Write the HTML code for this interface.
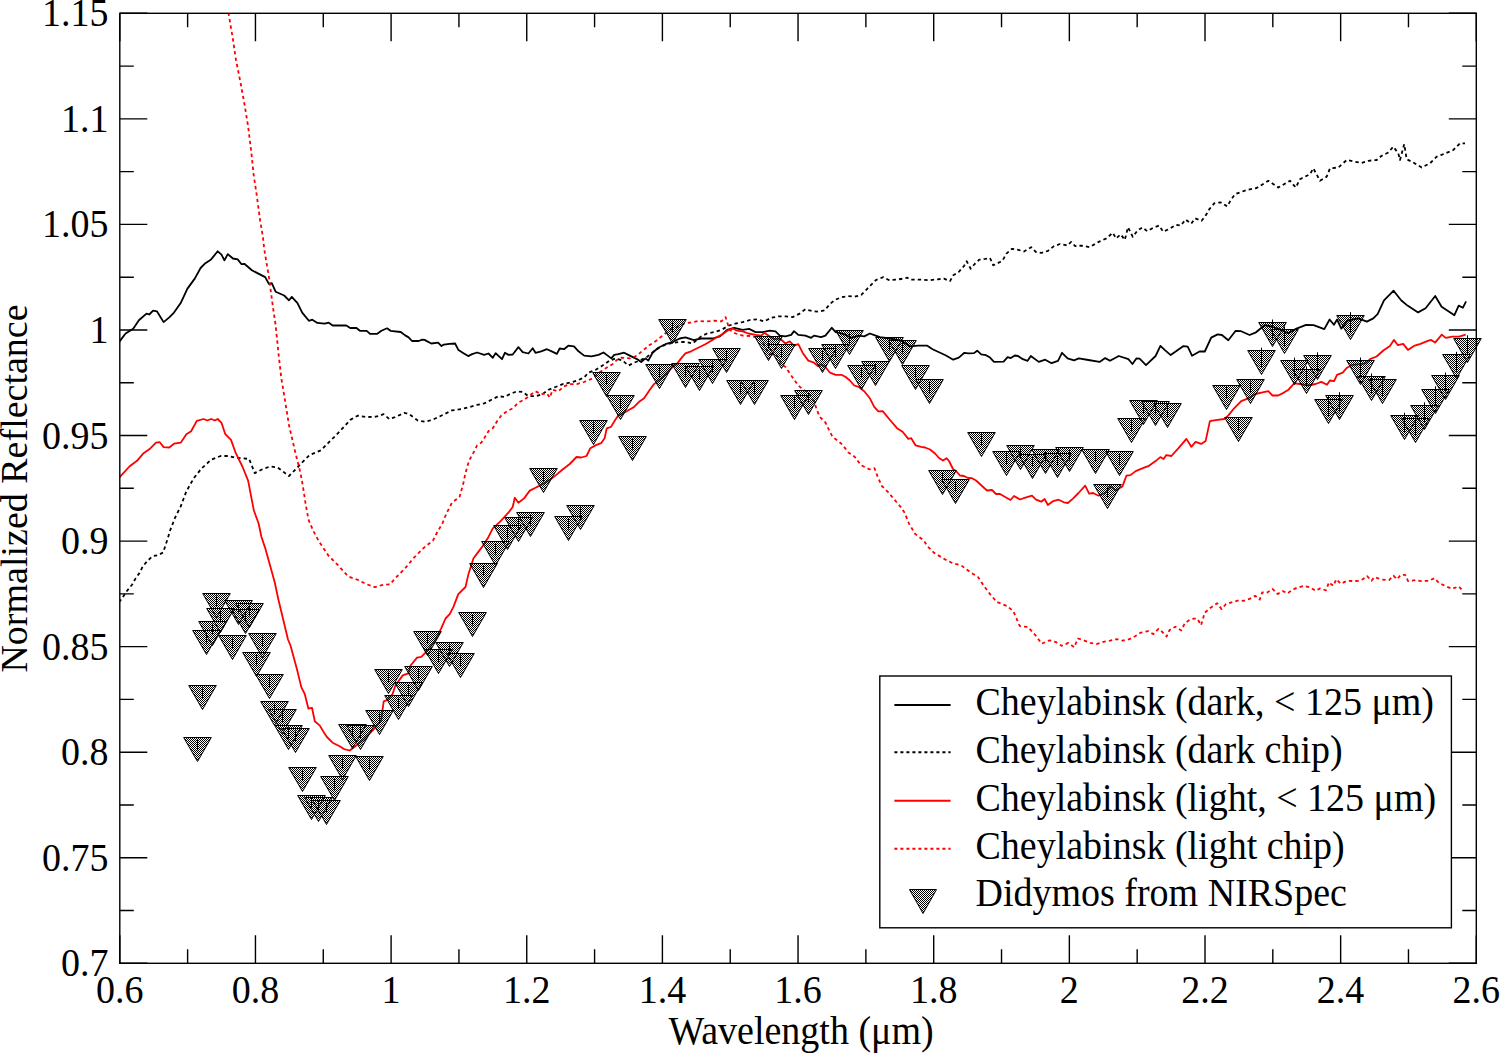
<!DOCTYPE html>
<html><head><meta charset="utf-8"><style>
html,body{margin:0;padding:0;background:#fff;}
body{width:1500px;height:1053px;overflow:hidden;}
svg{display:block;}
text{font-family:"Liberation Serif",serif;fill:#000;}
</style></head><body>
<svg width="1500" height="1053" viewBox="0 0 1500 1053">
<defs>
<pattern id="chk" width="2" height="2" patternUnits="userSpaceOnUse"><rect width="1" height="1" fill="#000"/><rect x="1" y="1" width="1" height="1" fill="#000"/></pattern><pattern id="chkw" width="2" height="2" patternUnits="userSpaceOnUse"><rect width="2" height="2" fill="#fff"/><rect width="1" height="1" fill="#000"/><rect x="1" y="1" width="1" height="1" fill="#000"/></pattern>
<clipPath id="pc"><rect x="119.8" y="13.3" width="1356.5" height="950.0"/></clipPath>
</defs>
<rect width="1500" height="1053" fill="#fff"/>

<g clip-path="url(#pc)" fill="none" stroke-linejoin="round">
<polyline points="119.0,342.1 125.6,333.5 133.2,328.8 138.9,320.2 146.5,313.6 149.3,314.5 153.1,310.7 156.9,311.3 163.6,322.1 169.3,317.4 174.0,312.6 180.7,303.1 187.3,288.9 194.9,278.4 200.6,268.0 205.4,263.2 211.1,259.4 217.7,251.3 221.5,254.7 224.4,260.4 227.8,254.1 232.9,258.5 237.7,259.4 241.5,264.2 244.3,263.8 251.9,270.3 265.2,277.1 269.0,284.1 271.8,283.2 275.6,291.7 284.2,295.5 289.0,300.3 291.8,296.9 297.5,303.1 302.2,312.6 308.9,320.8 312.3,319.7 317.4,322.9 324.7,323.7 328.7,322.7 332.7,325.5 346.3,325.5 350.2,328.0 356.5,328.0 359.9,330.8 366.7,330.8 370.1,333.9 376.9,333.9 381.4,330.8 387.1,328.3 390.5,330.8 400.7,332.0 405.2,335.4 408.6,337.4 412.0,341.0 418.8,341.0 422.2,339.7 424.5,339.9 431.3,343.5 438.1,342.7 441.5,346.1 443.8,344.6 449.5,343.9 455.1,343.5 458.5,350.1 463.1,352.9 468.2,356.1 472.1,354.1 477.1,352.5 484.2,354.9 488.5,353.5 492.8,357.8 495.6,353.1 502.0,359.2 504.9,352.8 508.5,354.9 512.7,354.5 518.4,347.1 522.7,352.1 528.4,353.5 532.7,348.2 535.5,352.8 541.2,351.4 546.9,349.2 551.2,351.1 556.9,353.9 559.7,348.5 564.0,349.2 568.3,345.7 574.0,346.3 578.5,351.3 584.2,355.6 591.4,356.3 598.5,354.9 603.5,352.5 607.7,355.6 611.3,358.4 614.2,354.9 618.4,354.2 624.1,352.7 629.8,355.6 637.0,359.1 641.2,362.0 645.5,358.4 648.3,360.6 652.6,352.7 658.3,347.7 665.4,344.2 672.6,342.0 679.7,338.5 685.4,337.4 693.9,340.2 701.1,338.5 712.5,338.5 719.9,336.4 727.1,329.9 734.2,327.8 742.7,329.9 749.1,328.9 755.6,332.1 762.7,332.1 769.8,330.7 775.5,331.4 779.8,335.6 785.5,336.4 791.2,334.9 794.0,331.1 798.3,334.9 805.4,335.6 811.1,337.8 814.0,335.6 821.1,337.1 825.4,335.6 831.8,327.8 835.7,332.1 844.2,334.2 851.4,337.8 858.5,335.6 864.2,336.4 869.9,333.5 875.6,335.6 879.9,337.1 889.8,338.5 901.2,340.6 909.8,346.3 918.3,345.6 926.9,345.6 932.6,349.2 938.0,351.7 946.0,355.5 953.2,359.7 958.8,357.6 964.4,352.8 968.4,353.3 974.0,353.1 977.2,350.7 981.2,354.4 986.0,355.2 990.0,357.6 994.0,361.9 1003.6,361.6 1007.6,357.1 1010.8,358.1 1014.8,355.5 1018.0,356.0 1022.8,359.2 1027.6,360.8 1030.8,356.0 1038.8,361.9 1045.2,359.7 1051.6,363.2 1058.0,360.8 1062.0,352.8 1067.6,358.4 1074.0,360.3 1078.8,358.4 1088.4,360.0 1099.6,361.9 1105.2,358.1 1110.0,360.8 1118.8,356.0 1128.4,359.2 1132.4,364.0 1136.4,358.4 1139.6,358.7 1146.0,365.1 1155.6,356.0 1160.4,345.9 1165.2,350.4 1170.7,355.1 1183.5,346.1 1187.7,346.6 1192.0,355.7 1199.5,351.5 1204.8,351.5 1211.2,337.6 1217.6,334.4 1221.9,335.0 1228.3,340.2 1235.7,330.8 1241.1,331.2 1249.6,335.0 1256.0,332.3 1264.5,325.2 1270.9,326.5 1279.5,329.1 1288.0,333.3 1296.5,328.6 1306.1,324.8 1313.6,325.2 1324.3,329.1 1329.6,319.5 1333.9,324.8 1337.1,319.5 1341.3,328.6 1347.7,320.5 1358.4,318.4 1366.9,321.6 1373.3,318.4 1377.6,314.1 1384.0,300.3 1393.6,290.7 1401.1,300.3 1407.5,305.6 1418.1,312.4 1425.6,308.2 1435.2,296.0 1441.6,306.7 1454.4,315.2 1458.7,305.6 1462.9,307.7 1466.1,301.3" stroke="#000" stroke-width="1.8"/>
<polyline points="119.1,602.2 122.9,596.9 127.1,590.8 132.0,584.7 135.5,578.6 139.6,572.9 142.7,566.5 147.2,561.2 152.6,556.2 158.3,555.1 163.2,552.4 165.5,545.2 167.8,538.4 170.0,530.8 175.0,517.8 180.7,506.4 186.4,491.2 194.0,477.9 201.6,468.4 211.1,459.8 220.6,456.0 228.2,456.0 236.7,457.9 249.1,458.9 254.8,473.1 262.3,469.3 270.0,466.5 277.5,467.4 289.0,476.0 298.4,466.5 300.0,464.6 309.5,455.1 320.9,450.3 328.5,442.7 338.0,433.2 350.3,419.9 357.9,415.6 366.5,417.1 376.0,416.7 383.6,414.2 389.3,419.0 395.0,417.1 404.5,412.9 409.2,414.2 417.8,420.5 425.4,421.8 433.0,419.6 444.3,414.2 451.9,410.4 461.4,409.1 470.0,406.9 477.1,404.8 484.2,403.4 491.4,399.8 498.5,396.2 504.2,397.0 509.9,394.1 517.0,391.3 522.7,392.0 528.4,396.2 535.5,396.2 542.6,394.1 548.3,389.8 555.5,387.0 562.6,384.1 569.7,382.7 576.8,380.6 584.0,377.7 588.2,372.7 595.4,369.9 602.5,365.6 609.6,360.6 615.6,358.4 622.7,360.6 628.4,365.6 634.1,362.7 641.2,359.9 646.9,357.0 654.0,351.3 661.2,346.3 669.7,343.5 678.3,342.0 685.4,342.0 692.5,343.5 701.1,336.4 707.1,333.5 714.2,332.1 721.4,329.9 728.5,325.7 735.6,323.5 742.7,322.1 749.9,320.0 757.0,319.3 764.1,321.4 771.2,317.8 778.3,316.4 785.5,316.4 792.6,317.1 799.7,313.6 805.3,309.3 812.0,311.1 818.7,311.7 824.7,310.4 829.3,304.7 834.7,300.0 841.3,297.3 848.0,296.0 854.7,296.7 861.3,294.9 866.7,289.3 871.3,284.7 876.0,280.0 883.3,277.1 888.7,280.0 896.0,279.7 902.7,278.7 907.3,277.7 910.0,279.6 916.0,279.6 922.7,279.7 929.3,280.3 937.3,279.3 944.0,278.7 950.0,281.1 953.3,275.3 958.7,272.0 964.0,266.0 966.7,261.3 970.7,268.7 974.7,264.0 979.3,259.7 985.3,258.9 990.0,258.0 993.3,265.3 1000.0,262.0 1002.4,260.8 1006.4,253.6 1012.0,248.8 1018.4,249.9 1024.0,251.5 1031.2,247.2 1036.0,252.0 1041.6,252.8 1048.0,250.9 1053.6,246.4 1060.0,244.0 1067.2,245.6 1071.2,241.9 1075.2,246.1 1081.6,245.6 1089.6,247.2 1099.2,241.6 1106.4,238.4 1112.8,232.8 1116.0,238.4 1120.8,234.4 1124.8,240.0 1128.0,227.2 1132.8,236.8 1137.6,230.4 1142.4,227.5 1147.2,231.2 1153.6,227.5 1159.2,225.6 1163.2,231.7 1169.6,228.8 1176.0,224.8 1180.8,225.6 1185.6,219.5 1191.2,223.7 1195.2,218.4 1201.6,220.8 1206.4,214.4 1209.6,208.8 1214.4,203.2 1220.8,202.4 1227.2,206.4 1230.4,200.8 1235.0,194.2 1246.7,190.0 1256.7,188.0 1268.3,180.8 1278.3,187.5 1290.0,180.8 1295.8,187.5 1300.0,179.2 1310.0,174.2 1313.3,168.3 1320.0,180.8 1326.7,176.7 1330.0,168.3 1338.3,167.5 1346.7,160.0 1355.0,161.7 1361.7,163.0 1368.3,160.8 1376.7,160.0 1381.7,155.8 1388.3,152.5 1393.3,146.7 1398.3,153.3 1400.0,160.0 1404.2,144.2 1406.7,159.2 1413.3,162.5 1421.7,167.5 1430.0,163.3 1436.7,156.7 1443.3,154.2 1453.3,150.0 1460.0,143.3 1465.0,143.3" stroke="#000" stroke-width="1.8" stroke-dasharray="3.4 3.1"/>
<polyline points="119.0,477.9 129.4,466.5 137.0,460.8 143.6,453.2 150.3,448.4 156.0,442.7 159.8,442.2 163.6,447.1 169.3,447.5 174.0,443.7 180.7,442.7 186.4,434.2 191.1,431.3 196.8,420.9 203.5,419.0 207.3,420.5 211.1,419.0 214.9,420.5 217.7,419.0 221.5,422.8 225.3,434.2 231.0,439.9 235.8,453.2 242.4,466.5 248.1,480.7 253.8,510.2 258.6,523.5 261.4,536.8 265.2,548.1 270.0,565.2 274.7,582.3 278.5,600.0 288.0,639.5 290.5,645.5 296.9,669.0 301.3,687.1 304.8,694.2 308.4,708.5 312.0,707.8 314.8,721.3 319.8,725.6 324.1,732.7 326.9,737.0 332.6,742.7 339.7,746.2 344.0,749.1 349.7,750.5 355.4,746.2 364.0,739.1 372.5,730.6 381.1,720.6 383.7,701.3 387.0,700.2 392.5,694.2 395.3,685.7 402.7,675.4 408.4,673.3 410.6,665.5 417.0,657.6 421.3,656.9 427.0,651.2 435.5,639.8 441.2,628.4 445.5,618.5 449.7,614.2 453.3,607.1 458.3,594.2 465.5,587.0 468.5,573.9 473.5,558.3 475.7,555.4 482.1,546.9 488.5,536.9 492.8,528.3 499.9,521.9 508.4,512.7 512.7,507.0 514.8,497.7 518.4,502.7 524.1,498.4 529.8,490.6 535.5,487.7 541.2,484.9 549.7,479.9 555.4,475.6 562.6,469.5 569.7,464.0 576.5,457.0 581.1,457.5 586.5,456.0 590.4,448.2 595.4,445.4 601.1,443.2 604.6,438.3 606.8,428.3 611.0,426.9 615.3,419.7 618.4,415.4 627.0,411.1 634.1,406.9 639.8,401.2 644.1,398.3 649.8,389.8 654.0,384.1 661.2,378.4 666.9,372.7 672.6,367.0 676.8,364.1 681.1,358.4 685.4,353.4 691.1,351.3 698.2,347.7 705.3,344.2 712.5,339.9 717.0,337.0 721.4,334.9 728.5,329.9 732.8,328.5 737.0,330.7 742.7,331.4 748.4,333.5 755.6,334.9 761.3,335.6 764.1,332.8 768.4,335.6 774.1,339.2 779.8,338.5 785.5,343.5 789.7,341.3 794.0,345.6 798.3,344.2 802.6,352.7 808.3,360.6 814.0,362.7 818.2,366.3 821.1,364.1 825.4,367.0 830.0,372.7 835.7,374.8 841.4,374.8 845.7,377.0 849.9,380.5 854.2,385.5 858.5,386.9 864.2,391.2 869.9,398.3 874.2,406.9 878.4,411.4 882.7,411.1 889.8,419.7 897.0,428.2 902.6,431.8 908.3,438.9 911.2,438.2 915.5,445.3 921.2,446.8 925.0,447.5 930.0,449.5 935.0,453.5 939.0,458.0 943.0,460.5 946.5,458.2 949.0,461.0 953.0,469.0 956.0,471.0 960.0,475.5 964.0,476.0 968.0,478.0 972.0,478.2 976.0,480.5 982.0,486.0 987.0,490.5 992.0,490.0 996.0,494.0 1000.0,494.0 1006.0,497.5 1010.5,500.0 1014.0,496.0 1020.0,499.5 1025.3,497.7 1032.0,495.7 1036.0,499.7 1041.3,501.7 1044.6,499.0 1047.9,505.0 1053.2,501.0 1058.6,499.7 1063.9,502.3 1067.9,503.0 1073.2,498.4 1078.5,493.0 1085.2,485.7 1089.1,493.7 1093.1,493.0 1098.5,495.7 1105.1,493.0 1110.4,486.4 1115.7,490.4 1122.4,486.4 1126.4,475.7 1130.4,475.1 1135.7,471.1 1142.3,468.4 1149.0,465.8 1155.6,461.1 1160.3,457.1 1163.6,459.1 1166.3,455.1 1171.4,456.0 1178.5,448.2 1186.4,438.9 1191.3,446.8 1195.6,441.8 1201.3,443.9 1205.6,441.1 1209.9,421.1 1214.1,420.4 1224.1,419.0 1228.4,415.4 1234.1,408.3 1241.2,401.2 1248.3,398.3 1255.4,394.0 1262.6,392.3 1268.3,391.2 1272.5,395.5 1278.2,395.5 1283.9,392.6 1288.5,389.7 1294.2,383.3 1299.9,384.0 1308.5,385.5 1315.6,384.0 1321.3,381.9 1327.0,384.8 1329.9,380.5 1334.1,381.2 1337.0,374.8 1342.7,372.6 1347.0,367.7 1352.6,364.8 1359.8,364.1 1365.5,363.4 1370.0,359.2 1376.6,356.5 1383.3,350.5 1389.9,345.9 1393.9,339.9 1397.9,345.2 1403.2,343.9 1407.9,349.9 1413.9,345.9 1420.5,343.9 1427.1,341.2 1431.1,339.9 1435.1,342.6 1441.8,334.6 1445.7,337.9 1452.4,336.6 1459.0,336.6 1465.7,334.6" stroke="#f00" stroke-width="1.8"/>
<polyline points="228.4,12.6 232.8,38.4 236.0,60.2 240.4,82.0 244.8,106.0 248.0,125.7 251.3,152.0 253.5,173.8 256.8,195.6 260.0,219.6 262.9,237.0 264.2,249.0 269.0,277.5 272.8,306.0 275.6,325.0 278.5,353.5 281.3,378.1 285.1,401.0 288.9,424.7 294.6,449.4 300.3,472.2 302.8,485.5 305.7,504.5 308.5,519.7 313.3,531.0 319.0,541.5 328.5,555.7 338.0,565.2 348.4,576.6 357.0,579.5 366.5,584.2 375.0,587.1 381.7,585.2 390.2,584.2 395.0,578.5 404.5,569.0 414.0,557.6 423.5,548.1 433.0,540.5 436.8,533.0 442.4,523.5 446.2,514.0 452.0,502.6 459.5,496.9 463.3,483.6 465.2,474.1 469.0,460.8 474.3,451.1 477.1,445.4 481.4,442.5 484.2,438.3 488.5,431.1 492.8,428.3 497.1,421.2 501.3,415.5 507.0,411.2 512.7,408.3 518.4,402.6 524.1,399.8 529.8,395.5 535.5,391.3 541.2,394.1 546.9,393.4 549.8,397.7 552.6,389.8 558.3,391.3 564.0,386.3 569.7,384.1 576.8,384.1 584.0,382.0 591.1,379.1 598.2,373.4 605.3,368.5 612.5,364.2 618.0,359.0 621.3,357.7 629.8,358.4 637.0,355.6 642.6,350.6 649.8,344.9 655.5,341.3 662.6,335.6 669.7,329.9 676.8,327.1 684.0,323.5 691.1,322.5 698.2,321.1 706.8,321.4 714.2,320.7 721.4,321.4 725.6,317.1 727.8,324.2 729.9,329.9 735.6,333.5 742.7,335.6 750.0,336.0 756.0,337.0 761.3,338.5 765.5,348.5 769.8,354.2 776.9,355.6 781.2,364.1 785.5,367.0 791.2,375.5 798.3,385.5 802.6,389.1 808.3,392.6 814.0,401.2 816.8,409.7 819.7,416.8 825.4,422.5 829.6,431.1 832.5,436.8 838.2,441.1 842.3,444.6 848.4,452.5 854.6,456.7 860.9,465.1 869.3,469.3 874.5,468.2 877.6,476.6 881.8,486.0 888.1,492.2 894.3,499.5 900.6,506.9 904.8,513.1 909.0,523.6 915.2,534.0 923.6,540.3 927.8,546.6 934.0,552.8 944.5,559.1 952.8,563.3 961.2,565.4 969.5,571.6 977.9,576.9 984.2,586.3 990.4,594.6 996.7,601.9 1007.2,606.1 1013.4,611.3 1019.7,626.0 1028.0,627.0 1036.4,636.4 1041.6,643.7 1048.9,640.6 1050.0,640.4 1055.9,642.1 1061.7,645.8 1068.3,642.9 1074.2,647.3 1077.9,638.5 1083.7,640.4 1090.3,642.9 1096.9,644.0 1103.5,641.8 1110.1,640.7 1116.7,639.2 1122.6,640.7 1129.2,639.2 1135.1,636.3 1140.9,632.6 1148.3,631.1 1153.4,634.1 1158.5,628.9 1162.2,631.9 1166.6,636.6 1169.5,630.1 1175.4,626.7 1181.3,630.4 1184.9,623.1 1189.3,620.1 1193.7,618.7 1197.4,618.7 1201.1,625.3 1204.7,612.8 1210.6,607.7 1217.2,603.3 1221.6,609.1 1226.0,604.0 1233.3,601.8 1239.2,600.3 1243.6,600.8 1249.5,598.9 1255.3,595.9 1259.7,599.6 1262.2,592.5 1267.3,592.5 1272.5,588.9 1277.6,594.0 1282.7,591.1 1287.9,593.3 1291.5,590.3 1296.7,587.8 1304.0,585.9 1309.9,587.4 1315.7,590.8 1320.1,588.4 1326.0,590.3 1328.9,582.3 1333.3,585.9 1336.3,579.3 1340.7,583.7 1347.3,580.8 1353.9,581.1 1358.3,580.8 1362.7,579.3 1367.1,576.1 1371.5,580.8 1374.4,577.1 1381.7,579.6 1389.1,580.1 1393.5,575.7 1397.1,579.3 1400.8,574.9 1405.2,574.9 1408.1,581.1 1415.5,580.1 1421.3,581.1 1428.7,580.8 1434.5,578.2 1438.9,583.0 1446.3,586.4 1452.1,588.9 1458.7,586.4 1463.1,591.1" stroke="#f00" stroke-width="1.8" stroke-dasharray="3.4 3.1"/>
</g>
<g fill="url(#chk)" stroke="#000" stroke-width="1.0" stroke-linejoin="miter"><path d="M202.7 593.5H230.3L216.5 617.5Z"/><path d="M224.7 600.5H252.3L238.5 624.5Z"/><path d="M235.7 603.5H263.3L249.5 627.5Z"/><path d="M206.7 608.5H234.3L220.5 632.5Z"/><path d="M231.7 609.5H259.3L245.5 633.5Z"/><path d="M198.7 621.5H226.3L212.5 645.5Z"/><path d="M192.7 630.5H220.3L206.5 654.5Z"/><path d="M218.7 635.5H246.3L232.5 659.5Z"/><path d="M248.7 633.5H276.3L262.5 657.5Z"/><path d="M242.7 652.5H270.3L256.5 676.5Z"/><path d="M255.7 674.5H283.3L269.5 698.5Z"/><path d="M188.7 685.5H216.3L202.5 709.5Z"/><path d="M183.7 737.5H211.3L197.5 761.5Z"/><path d="M260.7 701.5H288.3L274.5 725.5Z"/><path d="M268.7 709.5H296.3L282.5 733.5Z"/><path d="M274.7 725.5H302.3L288.5 749.5Z"/><path d="M281.7 728.5H309.3L295.5 752.5Z"/><path d="M288.7 767.5H316.3L302.5 791.5Z"/><path d="M297.7 795.5H325.3L311.5 819.5Z"/><path d="M304.7 797.5H332.3L318.5 821.5Z"/><path d="M312.7 800.5H340.3L326.5 824.5Z"/><path d="M320.7 776.5H348.3L334.5 800.5Z"/><path d="M328.7 755.5H356.3L342.5 779.5Z"/><path d="M355.7 756.5H383.3L369.5 780.5Z"/><path d="M338.7 724.5H366.3L352.5 748.5Z"/><path d="M346.7 725.5H374.3L360.5 749.5Z"/><path d="M365.7 710.5H393.3L379.5 734.5Z"/><path d="M374.7 669.5H402.3L388.5 693.5Z"/><path d="M384.7 695.5H412.3L398.5 719.5Z"/><path d="M394.7 682.5H422.3L408.5 706.5Z"/><path d="M404.7 666.5H432.3L418.5 690.5Z"/><path d="M413.7 631.5H441.3L427.5 655.5Z"/><path d="M424.7 649.5H452.3L438.5 673.5Z"/><path d="M435.7 642.5H463.3L449.5 666.5Z"/><path d="M446.7 653.5H474.3L460.5 677.5Z"/><path d="M458.7 612.5H486.3L472.5 636.5Z"/><path d="M469.7 563.5H497.3L483.5 587.5Z"/><path d="M481.7 541.5H509.3L495.5 565.5Z"/><path d="M493.7 525.5H521.3L507.5 549.5Z"/><path d="M504.7 517.5H532.3L518.5 541.5Z"/><path d="M516.7 512.5H544.3L530.5 536.5Z"/><path d="M529.7 468.5H557.3L543.5 492.5Z"/><path d="M554.7 516.5H582.3L568.5 540.5Z"/><path d="M566.7 505.5H594.3L580.5 529.5Z"/><path d="M579.7 420.5H607.3L593.5 444.5Z"/><path d="M592.7 372.5H620.3L606.5 396.5Z"/><path d="M606.7 395.5H634.3L620.5 419.5Z"/><path d="M618.7 436.5H646.3L632.5 460.5Z"/><path d="M645.7 364.5H673.3L659.5 388.5Z"/><path d="M658.7 319.5H686.3L672.5 343.5Z"/><path d="M671.7 363.5H699.3L685.5 387.5Z"/><path d="M685.7 366.5H713.3L699.5 390.5Z"/><path d="M698.7 359.5H726.3L712.5 383.5Z"/><path d="M712.7 348.5H740.3L726.5 372.5Z"/><path d="M726.7 380.5H754.3L740.5 404.5Z"/><path d="M740.7 380.5H768.3L754.5 404.5Z"/><path d="M754.7 336.5H782.3L768.5 360.5Z"/><path d="M767.7 344.5H795.3L781.5 368.5Z"/><path d="M780.7 395.5H808.3L794.5 419.5Z"/><path d="M794.7 390.5H822.3L808.5 414.5Z"/><path d="M808.7 348.5H836.3L822.5 372.5Z"/><path d="M821.7 344.5H849.3L835.5 368.5Z"/><path d="M835.7 330.5H863.3L849.5 354.5Z"/><path d="M847.7 365.5H875.3L861.5 389.5Z"/><path d="M861.7 361.5H889.3L875.5 385.5Z"/><path d="M875.7 337.5H903.3L889.5 361.5Z"/><path d="M888.7 340.5H916.3L902.5 364.5Z"/><path d="M901.7 365.5H929.3L915.5 389.5Z"/><path d="M915.7 379.5H943.3L929.5 403.5Z"/><path d="M928.7 470.5H956.3L942.5 494.5Z"/><path d="M941.7 479.5H969.3L955.5 503.5Z"/><path d="M967.7 432.5H995.3L981.5 456.5Z"/><path d="M992.7 451.5H1020.3L1006.5 475.5Z"/><path d="M1006.7 445.5H1034.3L1020.5 469.5Z"/><path d="M1018.7 454.5H1046.3L1032.5 478.5Z"/><path d="M1031.7 449.5H1059.3L1045.5 473.5Z"/><path d="M1043.7 453.5H1071.3L1057.5 477.5Z"/><path d="M1055.7 447.5H1083.3L1069.5 471.5Z"/><path d="M1081.7 449.5H1109.3L1095.5 473.5Z"/><path d="M1093.7 484.5H1121.3L1107.5 508.5Z"/><path d="M1105.7 451.5H1133.3L1119.5 475.5Z"/><path d="M1117.7 418.5H1145.3L1131.5 442.5Z"/><path d="M1129.7 400.5H1157.3L1143.5 424.5Z"/><path d="M1141.7 401.5H1169.3L1155.5 425.5Z"/><path d="M1153.7 403.5H1181.3L1167.5 427.5Z"/><path d="M1212.7 385.5H1240.3L1226.5 409.5Z"/><path d="M1224.7 417.5H1252.3L1238.5 441.5Z"/><path d="M1236.7 379.5H1264.3L1250.5 403.5Z"/><path d="M1247.7 350.5H1275.3L1261.5 374.5Z"/><path d="M1258.7 322.5H1286.3L1272.5 346.5Z"/><path d="M1270.7 329.5H1298.3L1284.5 353.5Z"/><path d="M1280.7 360.5H1308.3L1294.5 384.5Z"/><path d="M1292.7 369.5H1320.3L1306.5 393.5Z"/><path d="M1303.7 355.5H1331.3L1317.5 379.5Z"/><path d="M1314.7 399.5H1342.3L1328.5 423.5Z"/><path d="M1325.7 395.5H1353.3L1339.5 419.5Z"/><path d="M1336.7 315.5H1364.3L1350.5 339.5Z"/><path d="M1346.7 360.5H1374.3L1360.5 384.5Z"/><path d="M1357.7 376.5H1385.3L1371.5 400.5Z"/><path d="M1368.7 379.5H1396.3L1382.5 403.5Z"/><path d="M1390.7 415.5H1418.3L1404.5 439.5Z"/><path d="M1401.7 418.5H1429.3L1415.5 442.5Z"/><path d="M1410.7 405.5H1438.3L1424.5 429.5Z"/><path d="M1421.7 389.5H1449.3L1435.5 413.5Z"/><path d="M1431.7 375.5H1459.3L1445.5 399.5Z"/><path d="M1442.7 354.5H1470.3L1456.5 378.5Z"/><path d="M1453.7 338.5H1481.3L1467.5 362.5Z"/></g>
<path d="M216.5 595.5V606.5M238.5 602.5V613.5M249.5 605.4V616.4M220.5 610.3V621.3M245.5 611.4V622.4M212.5 623.6V634.6M206.5 632.5V643.5M232.5 637.5V648.5M262.5 635.6V646.6M256.5 654.4V665.4M269.5 676.4V687.4M202.5 687.4V698.4M197.5 739.3V750.3M274.5 703.7V714.7M282.5 711.6V722.6M288.5 727.3V738.3M295.5 730.4V741.4M302.5 769.6V780.6M311.5 797.0V808.0M318.5 799.8V810.8M326.5 802.0V813.0M334.5 778.6V789.6M342.5 757.5V768.5M369.5 758.5V769.5M352.5 726.4V737.4M360.5 727.2V738.2M379.5 712.5V723.5M388.5 671.7V682.7M398.5 697.7V708.7M408.5 684.3V695.3M418.5 668.5V679.5M427.5 633.0V644.0M438.5 651.4V662.4M449.5 644.4V655.4M460.5 655.4V666.4M472.5 614.5V625.5M483.5 565.0V576.0M495.5 543.6V554.6M507.5 527.5V538.5M518.5 519.0V530.0M530.5 514.7V525.7M543.5 470.9V481.9M568.5 518.5V529.5M580.5 507.3V518.3M593.5 422.4V433.4M606.5 374.0V385.0M620.5 397.5V408.5M632.5 438.5V449.5M659.5 366.6V377.6M672.5 321.7V332.7M685.5 365.7V376.7M699.5 368.6V379.6M712.5 361.4V372.4M726.5 350.5V361.5M740.5 382.8V393.8M754.5 382.8V393.8M768.5 338.0V349.0M781.5 346.5V357.5M794.5 397.0V408.0M808.5 392.1V403.1M822.5 350.0V361.0M835.5 346.2V357.2M849.5 332.7V343.7M861.5 367.0V378.0M875.5 363.6V374.6M889.5 339.5V350.5M902.5 342.5V353.5M915.5 367.2V378.2M929.5 381.8V392.8M942.5 472.0V483.0M955.5 481.2V492.2M981.5 434.2V445.2M1006.5 453.0V464.0M1020.5 447.5V458.5M1032.5 456.0V467.0M1045.5 451.5V462.5M1057.5 455.1V466.1M1069.5 449.8V460.8M1095.5 451.1V462.1M1107.5 486.7V497.7M1119.5 453.8V464.8M1131.5 420.2V431.2M1143.5 402.6V413.6M1155.5 403.3V414.3M1167.5 405.9V416.9M1226.5 387.0V398.0M1238.5 419.1V430.1M1250.5 381.5V392.5M1261.5 347.6V367.6M1272.5 319.5V339.5M1284.5 326.5V346.5M1294.5 357.6V377.6M1306.5 366.4V386.4M1317.5 352.3V372.3M1328.5 396.7V416.7M1339.5 392.2V412.2M1350.5 312.2V332.2M1360.5 357.5V377.5M1371.5 373.5V393.5M1382.5 376.3V396.3M1404.5 412.7V432.7M1415.5 415.5V435.5M1424.5 402.4V422.4M1435.5 386.3V406.3M1445.5 372.5V392.5M1456.5 351.8V371.8M1467.5 335.3V355.3" stroke="#000" stroke-width="1.0" fill="none"/>
<path d="M119.80 963.30V935.30M119.80 13.30V41.30M255.45 963.30V935.30M255.45 13.30V41.30M391.10 963.30V935.30M391.10 13.30V41.30M526.75 963.30V935.30M526.75 13.30V41.30M662.40 963.30V935.30M662.40 13.30V41.30M798.05 963.30V935.30M798.05 13.30V41.30M933.70 963.30V935.30M933.70 13.30V41.30M1069.35 963.30V935.30M1069.35 13.30V41.30M1205.00 963.30V935.30M1205.00 13.30V41.30M1340.65 963.30V935.30M1340.65 13.30V41.30M1476.30 963.30V935.30M1476.30 13.30V41.30M187.62 963.30V949.30M187.62 13.30V27.30M323.27 963.30V949.30M323.27 13.30V27.30M458.93 963.30V949.30M458.93 13.30V27.30M594.58 963.30V949.30M594.58 13.30V27.30M730.23 963.30V949.30M730.23 13.30V27.30M865.88 963.30V949.30M865.88 13.30V27.30M1001.53 963.30V949.30M1001.53 13.30V27.30M1137.17 963.30V949.30M1137.17 13.30V27.30M1272.82 963.30V949.30M1272.82 13.30V27.30M1408.47 963.30V949.30M1408.47 13.30V27.30M119.80 963.30H147.30M1476.30 963.30H1448.80M119.80 857.74H147.30M1476.30 857.74H1448.80M119.80 752.19H147.30M1476.30 752.19H1448.80M119.80 646.63H147.30M1476.30 646.63H1448.80M119.80 541.08H147.30M1476.30 541.08H1448.80M119.80 435.52H147.30M1476.30 435.52H1448.80M119.80 329.97H147.30M1476.30 329.97H1448.80M119.80 224.41H147.30M1476.30 224.41H1448.80M119.80 118.86H147.30M1476.30 118.86H1448.80M119.80 13.30H147.30M1476.30 13.30H1448.80M119.80 910.52H133.80M1476.30 910.52H1462.30M119.80 804.97H133.80M1476.30 804.97H1462.30M119.80 699.41H133.80M1476.30 699.41H1462.30M119.80 593.86H133.80M1476.30 593.86H1462.30M119.80 488.30H133.80M1476.30 488.30H1462.30M119.80 382.74H133.80M1476.30 382.74H1462.30M119.80 277.19H133.80M1476.30 277.19H1462.30M119.80 171.63H133.80M1476.30 171.63H1462.30M119.80 66.08H133.80M1476.30 66.08H1462.30" stroke="#000" stroke-width="1.4" fill="none"/>
<rect x="119.80" y="13.30" width="1356.50" height="950.00" fill="none" stroke="#000" stroke-width="1.4"/>
<text transform="translate(119.8 1002.7) scale(1 1.035)" font-size="38" text-anchor="middle">0.6</text>
<text transform="translate(255.5 1002.7) scale(1 1.035)" font-size="38" text-anchor="middle">0.8</text>
<text transform="translate(391.1 1002.7) scale(1 1.035)" font-size="38" text-anchor="middle">1</text>
<text transform="translate(526.8 1002.7) scale(1 1.035)" font-size="38" text-anchor="middle">1.2</text>
<text transform="translate(662.4 1002.7) scale(1 1.035)" font-size="38" text-anchor="middle">1.4</text>
<text transform="translate(798.0 1002.7) scale(1 1.035)" font-size="38" text-anchor="middle">1.6</text>
<text transform="translate(933.7 1002.7) scale(1 1.035)" font-size="38" text-anchor="middle">1.8</text>
<text transform="translate(1069.3 1002.7) scale(1 1.035)" font-size="38" text-anchor="middle">2</text>
<text transform="translate(1205.0 1002.7) scale(1 1.035)" font-size="38" text-anchor="middle">2.2</text>
<text transform="translate(1340.6 1002.7) scale(1 1.035)" font-size="38" text-anchor="middle">2.4</text>
<text transform="translate(1476.3 1002.7) scale(1 1.035)" font-size="38" text-anchor="middle">2.6</text>
<text transform="translate(108.5 976.3) scale(1 1.035)" font-size="38" text-anchor="end">0.7</text>
<text transform="translate(108.5 870.7) scale(1 1.035)" font-size="38" text-anchor="end">0.75</text>
<text transform="translate(108.5 765.2) scale(1 1.035)" font-size="38" text-anchor="end">0.8</text>
<text transform="translate(108.5 659.6) scale(1 1.035)" font-size="38" text-anchor="end">0.85</text>
<text transform="translate(108.5 554.1) scale(1 1.035)" font-size="38" text-anchor="end">0.9</text>
<text transform="translate(108.5 448.5) scale(1 1.035)" font-size="38" text-anchor="end">0.95</text>
<text transform="translate(108.5 343.0) scale(1 1.035)" font-size="38" text-anchor="end">1</text>
<text transform="translate(108.5 237.4) scale(1 1.035)" font-size="38" text-anchor="end">1.05</text>
<text transform="translate(108.5 131.9) scale(1 1.035)" font-size="38" text-anchor="end">1.1</text>
<text transform="translate(108.5 26.3) scale(1 1.035)" font-size="38" text-anchor="end">1.15</text>
<text transform="translate(801.0 1044.2) scale(1 1.035)" font-size="38" text-anchor="middle">Wavelength (&#956;m)</text>
<text transform="translate(27.2 488.5) rotate(-90)" font-size="38" text-anchor="middle">Normalized Reflectance</text>
<rect x="879.8" y="676" width="571.6" height="251.8" fill="#fff" stroke="#000" stroke-width="1.4"/>
<path d="M894.4 705.1H950.6" stroke="#000" stroke-width="2"/>
<path d="M894.4 752.3H950.6" stroke="#000" stroke-width="2" stroke-dasharray="3 3"/>
<path d="M894.4 800.7H950.6" stroke="#f00" stroke-width="2"/>
<path d="M894.4 848.7H950.6" stroke="#f00" stroke-width="2" stroke-dasharray="3 3"/>
<path d="M909.5 889.5H936.5L923 913.5Z" fill="url(#chkw)" stroke="#000" stroke-width="1.0"/>
<text transform="translate(975.5 715.4) scale(1 1.035)" font-size="38">Cheylabinsk (dark, &lt; 125 &#956;m)</text>
<text transform="translate(975.5 763.4) scale(1 1.035)" font-size="38">Cheylabinsk (dark chip)</text>
<text transform="translate(975.5 811.4) scale(1 1.035)" font-size="38">Cheylabinsk (light, &lt; 125 &#956;m)</text>
<text transform="translate(975.5 859.4) scale(1 1.035)" font-size="38">Cheylabinsk (light chip)</text>
<text transform="translate(975.5 905.5) scale(1 1.035)" font-size="38">Didymos from NIRSpec</text>
</svg></body></html>
